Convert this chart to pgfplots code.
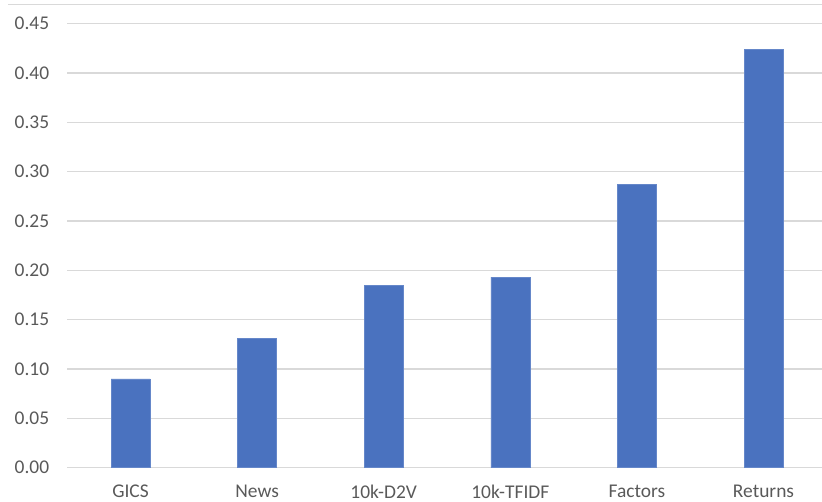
\documentclass[border=0pt]{standalone}
\usepackage{pgfplots}
\pgfplotsset{compat=1.18}
\usepackage{fontspec}
\setmainfont{Carlito}
\definecolor{barblue}{HTML}{4A72BF}
\definecolor{gridgray}{HTML}{D9D9D9}
\definecolor{labelgray}{HTML}{595959}
\begin{document}
\begin{tikzpicture}
\useasboundingbox (-67.2bp,-34.3bp) rectangle (754.8bp,467.7bp);
\begin{axis}[
  at={(0,0)}, anchor=south west,
  scale only axis,
  width=754.8bp, height=444.2bp,
  xmin=-0.5, xmax=5.462,
  ymin=0, ymax=0.45,
  xtick=data,
  xticklabels={GICS, News, 10k-D2V, 10k-TFIDF, Factors, Returns},
  ytick={0,0.05,...,0.45},
  yticklabel style={
    /pgf/number format/fixed,
    /pgf/number format/fixed zerofill,
    /pgf/number format/precision=2,
    /pgf/number format/assume math mode=true,
    xshift=-14.5bp},
  ymajorgrids,
  grid style={gridgray, line width=1.3bp},
  axis x line*=bottom,
  axis y line*=left,
  x axis line style={gridgray, line width=1.3bp, -},
  y axis line style={draw=none},
  major tick length=0pt,
  ticklabel style={font=\fontsize{19.5}{22}\selectfont, text=labelgray},
  xticklabel style={yshift=-14bp},
  clip=false,
]
\addplot[ybar, bar width=39bp, fill=barblue, draw=barblue!85!white, line width=0.6bp]
  coordinates {(0,0.090) (1,0.131) (2,0.185) (3,0.193) (4,0.287) (5,0.424)};
\draw[gridgray, line width=1.3bp] (axis description cs:-0.078,1.0425) -- (axis description cs:1.01,1.0425);
\end{axis}
\end{tikzpicture}
\end{document}
